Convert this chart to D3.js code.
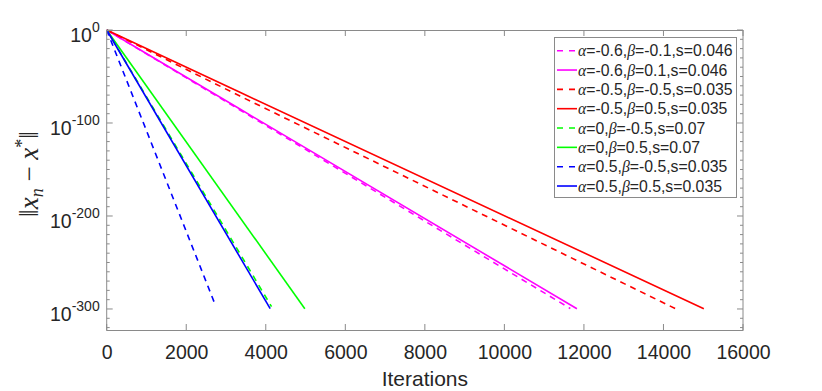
<!DOCTYPE html>
<html><head><meta charset="utf-8">
<script src="https://cdn.jsdelivr.net/npm/d3@7"></script>
<style>body{margin:0;background:#fff}svg{display:block}</style>
</head><body>
<svg id="c" width="822" height="391"></svg>
<script>
// Data: iteration vs log10(||x_n - x*||)
const seriesNames = [
  "α=-0.6,β=-0.1,s=0.046",
  "α=-0.6,β=0.1,s=0.046",
  "α=-0.5,β=-0.5,s=0.035",
  "α=-0.5,β=0.5,s=0.035",
  "α=0,β=-0.5,s=0.07",
  "α=0,β=0.5,s=0.07",
  "α=0.5,β=-0.5,s=0.035",
  "α=0.5,β=0.5,s=0.035"
];
const seriesColors = ["#ff00ff","#ff00ff","#ff0000","#ff0000","#00ff00","#00ff00","#0000ff","#0000ff"];
const seriesDashed = [true,false,true,false,true,false,true,false];
const magentaDashed = [[0,0],[3350,-86],[11658,-299.5]];
const magentaSolid  = [[0,0],[3350,-85],[11824,-299.7]];
const redDashed     = [[0,0],[3350,-71],[14304,-299.7]];
const redSolid      = [[0,0],[3350,-67],[15015,-299.7]];
const greenDashed   = [[0,0],[4145,-297.5]];
const greenSolid    = [[0,0],[4982,-299.7]];
const blueDashed    = [[0,0],[2721,-294.6]];
const blueSolid     = [[0,0],[4111,-299.7]];
const seriesData = [magentaDashed,magentaSolid,redDashed,redSolid,greenDashed,greenSolid,blueDashed,blueSolid];
const xTicks = [0,2000,4000,6000,8000,10000,12000,14000,16000];
const yTicks = [0,-100,-200,-300];          // exponents of 10
const yMinorTicks = d3.range(0,-321,-10);

const svg = d3.select("#c");
const L=106.7, R=743, T=30, B=330;
const x = d3.scaleLinear().domain([0,16000]).range([L,R]);
const y = d3.scaleLinear().domain([-322.6,0]).range([B,T]);
const axisColor = "#8a8a8a", textColor = "#262626";
const font = "'Liberation Sans', Arial, Helvetica, sans-serif";

// lines
const line = d3.line().x(d=>x(d[0])).y(d=>y(d[1]));
const g = svg.append("g");
seriesData.forEach((s,i)=>{
  g.append("path").attr("d",line(s)).attr("fill","none")
   .attr("stroke",seriesColors[i]).attr("stroke-width",1.6)
   .attr("stroke-dasharray",seriesDashed[i]?"6,5":null);
});

// axes
const ax = svg.append("g");
ax.append("rect").attr("x",L).attr("y",T+0.5).attr("width",R-L).attr("height",B-T)
  .attr("fill","none").attr("stroke",axisColor).attr("stroke-width",1);
xTicks.forEach(t=>{
  const px = x(t);
  ax.append("line").attr("x1",px).attr("x2",px).attr("y1",B).attr("y2",B-6).attr("stroke",axisColor);
  ax.append("line").attr("x1",px).attr("x2",px).attr("y1",T).attr("y2",T+6).attr("stroke",axisColor);
});
const xAxisG = svg.append("g").attr("transform",`translate(0,${B})`)
  .call(d3.axisBottom(x).tickValues(xTicks).tickFormat(d3.format("d")).tickSize(0).tickPadding(15));
xAxisG.select(".domain").remove();
xAxisG.selectAll("text").attr("font-family",font).attr("font-size",19.5).attr("fill",textColor);
yMinorTicks.forEach(t=>{
  const py = y(t);
  const len = yTicks.includes(t)?6:3;
  ax.append("line").attr("x1",L).attr("x2",L+len).attr("y1",py).attr("y2",py).attr("stroke",axisColor);
  ax.append("line").attr("x1",R).attr("x2",R-len).attr("y1",py).attr("y2",py).attr("stroke",axisColor);
});
yTicks.forEach(t=>{
  const txt = svg.append("text").attr("x",L-7).attr("y",y(t)+12)
    .attr("text-anchor","end").attr("font-family",font).attr("font-size",19.5).attr("fill",textColor);
  txt.append("tspan").text("10");
  txt.append("tspan").attr("dy",-10).attr("font-size",14).text(t===0?"0":String(t));
});

// axis titles
svg.append("text").attr("x",(L+R)/2).attr("y",386).attr("text-anchor","middle")
  .attr("font-family",font).attr("font-size",21).attr("fill",textColor).text("Iterations");
const yl = svg.append("text").attr("transform","translate(38,174) rotate(-90)")
  .attr("text-anchor","middle").attr("font-family","'Liberation Serif', serif").attr("font-size",27).attr("fill",textColor);
yl.append("tspan").text("‖");
yl.append("tspan").attr("font-style","italic").text("x");
yl.append("tspan").attr("font-style","italic").attr("font-size",18).attr("dy",5).text("n");
yl.append("tspan").attr("dy",-5).text(" − ");
yl.append("tspan").attr("font-style","italic").text("x");
yl.append("tspan").attr("font-size",18).attr("dy",-10).text("*");
yl.append("tspan").attr("dy",10).text("‖");

// legend
const lg = svg.append("g");
lg.append("rect").attr("x",554.5).attr("y",37.5).attr("width",182).attr("height",160)
  .attr("fill","#fff").attr("stroke",axisColor).attr("stroke-width",1);
seriesNames.forEach((nm,i)=>{
  const cy = 50.7 + i*19.33;
  lg.append("line").attr("x1",557).attr("x2",577).attr("y1",cy).attr("y2",cy)
    .attr("stroke",seriesColors[i]).attr("stroke-width",1.6)
    .attr("stroke-dasharray",seriesDashed[i]?"6,6":null);
  const t = lg.append("text").attr("x",578).attr("y",cy+5.5)
    .attr("font-family",font).attr("font-size",15.8).attr("fill",textColor);
  nm.split(/(α|β)/).forEach(part=>{
    if(!part) return;
    if(part==="α"||part==="β"){
      t.append("tspan").attr("font-family","'Liberation Serif', serif").attr("font-style","italic").text(part);
    } else t.append("tspan").text(part);
  });
});
</script>
</body></html>
